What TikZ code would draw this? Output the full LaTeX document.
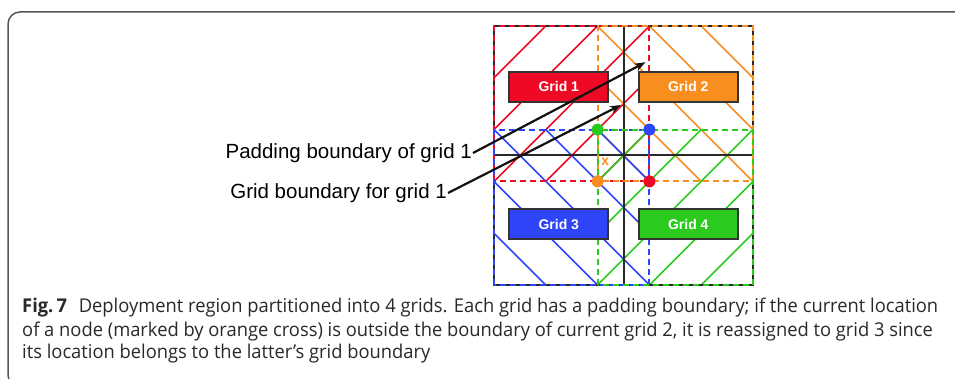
\documentclass[tikz,border=0pt]{standalone}
\usepackage{fontspec}
\setmainfont{Liberation Sans}
\newfontfamily\capfont[FakeStretch=0.965]{Open Sans}
\usepackage{xcolor}
\usetikzlibrary{arrows.meta,positioning}
\definecolor{ink}{HTML}{111111}
\definecolor{framegray}{HTML}{555555}
\definecolor{gridred}{HTML}{EE0A24}
\definecolor{gridorange}{HTML}{F78E1E}
\definecolor{gridblue}{HTML}{2F45FA}
\definecolor{gridgreen}{HTML}{2ACB1E}
\definecolor{boxline}{HTML}{333333}

\begin{document}
\begin{tikzpicture}[
  x=1pt, y=1pt,
  gridbox/.style={rectangle, draw=boxline, line width=1.6pt, minimum width=99pt,
    minimum height=30pt, text=white, font=\fontsize{14}{16}\selectfont\bfseries},
  hatch/.style={line width=1.6pt},
  padline/.style={line width=2pt, dash pattern=on 6pt off 4pt},
  gridline/.style={line width=2pt, draw=ink!90},
  arr/.style={-{Stealth[length=11pt,width=8pt]}, line width=2.2pt, draw=ink},
  lbl/.style={font=\fontsize{20.5}{24}\selectfont, inner sep=1pt},
  capt/.style={font=\capfont\fontsize{19}{23.5}\selectfont, inner sep=0pt, text=ink!90},
]
\useasboundingbox (0,0) rectangle (955,379);

% caption frame
\draw[framegray, line width=1.5pt, rounded corners=12pt]
  (980,-8) -- (8,-8) -- (8,367) -- (980,367);

\begin{scope}[shift={(494,94)}, x=25.9pt, y=25.9pt]
  % hatching of the padded grids
  \begin{scope}
    \clip (0,4) rectangle (6,10);
    \foreach \c in {-2,0,...,10}
      \draw[hatch, gridred] (-2,{\c-2}) -- (12,{\c+12});
  \end{scope}
  \begin{scope}
    \clip (4,4) rectangle (10,10);
    \foreach \c in {8,10,...,20}
      \draw[hatch, gridorange] (-2,{\c+2}) -- (12,{\c-12});
  \end{scope}
  \begin{scope}
    \clip (0,0) rectangle (6,6);
    \foreach \c in {0,2,...,12}
      \draw[hatch, gridblue] (-2,{\c+2}) -- (12,{\c-12});
  \end{scope}
  \begin{scope}
    \clip (4,0) rectangle (10,6);
    \foreach \c in {-10,-8,...,2}
      \draw[hatch, gridgreen] (-2,{\c-2}) -- (12,{\c+12});
  \end{scope}

  % grid boundaries
  \draw[gridline] (0,0) rectangle (10,10);
  \draw[gridline] (5,0) -- (5,10);
  \draw[gridline] (0,5) -- (10,5);

  % padding boundaries
  \draw[padline, gridred] (0,4) rectangle (6,10);
  \draw[padline, gridorange] (4,4) rectangle (10,10);
  \draw[padline, gridblue] (0,0) rectangle (6,6);
  \draw[padline, gridgreen] (4,0) rectangle (10,6);

  \fill[gridgreen] (4,6) circle (6pt);
  \fill[gridblue] (6,6) circle (6pt);
  \fill[gridorange] (4,4) circle (6pt);
  \fill[gridred] (6,4) circle (6pt);

  \node[gridbox, fill=gridred] (g1) at (2.5,7.65) {Grid 1};
  \node[gridbox, fill=gridorange] (g2) at (7.5,7.65) {Grid 2};
  \node[gridbox, fill=gridblue] (g3) at (2.5,2.35) {Grid 3};
  \node[gridbox, fill=gridgreen] (g4) at (7.5,2.35) {Grid 4};

  \node[text=gridorange, font=\fontsize{14}{15}\selectfont\bfseries] (cross) at (4.3,4.75) {x};

  \coordinate (padtip) at (5.85,8.6);
  \coordinate (gridtip) at (4.9,6.95);
\end{scope}

\node[lbl, anchor=east] (padlbl) at (473,226) {Padding boundary of grid 1};
\node[lbl, anchor=east] (gridlbl) at (448,186) {Grid boundary for grid 1};
\draw[arr] (padlbl.east) -- (padtip);
\draw[arr] (gridlbl.east) -- (gridtip);

% caption
\node[capt, anchor=base west] (cap1) at (22,66.3)
  {\textbf{Fig.\,7}\hspace{7pt} Deployment region partitioned into 4 grids. Each grid has a padding boundary; if the current location};
\node[capt, anchor=base west] (cap2) at (22,42.3)
  {of a node (marked by orange cross) is outside the boundary of current grid 2, it is reassigned to grid 3 since};
\node[capt, anchor=base west] (cap3) at (22,20)
  {its location belongs to the latter’s grid boundary};
\end{tikzpicture}
\end{document}
